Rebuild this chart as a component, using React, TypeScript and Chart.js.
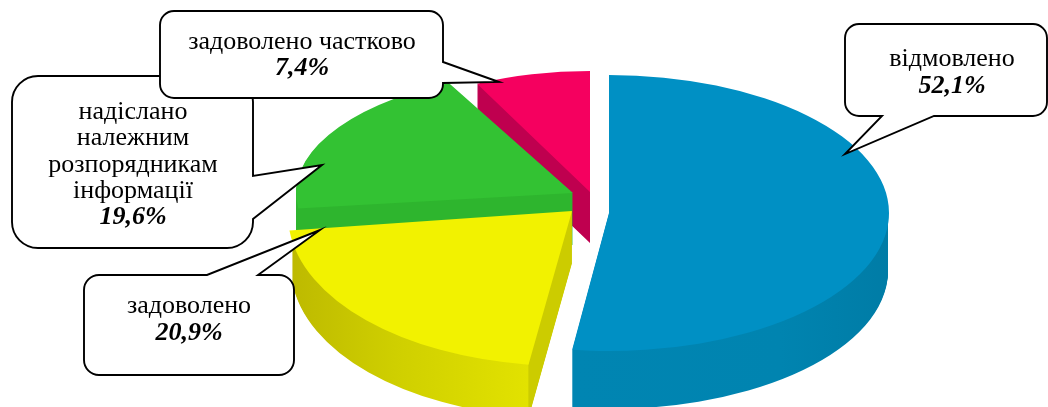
import React, { useEffect, useRef } from "react";
import { Chart, registerables } from "chart.js";

Chart.register(...registerables);

const categories = ["відмовлено", "задоволено", "надіслано належним розпорядникам інформації", "задоволено частково"];
const values = [52.1, 20.9, 19.6, 7.4];
const topColors = ["#0090c4", "#f2f200", "#33c233", "#f5005f"];

// Each exploded slice's projected ellipse (apex, radii, shear) and extrusion
const sliceFrames = [
  { cx: 609, cy: 213, rx: 280, ry: 138, skew: 0, depth: 58, wallRx: 279 },
  { cx: 572, cy: 211, rx: 284, ry: 155, skew: -0.04, depth: 52, wallRx: 281 },
  { cx: 573, cy: 193, rx: 277, ry: 123, skew: 0, depth: 52, wallRx: 277 },
  { cx: 590, cy: 192, rx: 252, ry: 121, skew: 0, depth: 51, wallRx: 252 },
];
const wallStops: [number, string][][] = [
  [[572, "#0085b2"], [780, "#0084b0"], [890, "#007ca6"]],
  [[290, "#bdb900"], [400, "#cfcf00"], [534, "#e2e200"], [535, "#cccc00"], [580, "#cccc00"]],
  [[290, "#2eb52e"], [575, "#2eb52e"]],
  [[470, "#bf004f"], [595, "#bf004f"]],
];

const calloutLines = [["відмовлено"], ["задоволено"], ["надіслано", "належним", "розпорядникам", "інформації"], ["задоволено частково"]];
const calloutBoxes = [
  { x: 845, y: 24, w: 202, h: 92, r: 14, tail: { side: "bottom", a: 882, tipX: 845, tipY: 154, b: 934 }, tx: 952, base: 66, step: 27 },
  { x: 84, y: 275, w: 210, h: 100, r: 15, tail: { side: "top", a: 258, tipX: 320, tipY: 230, b: 207 }, tx: 189, base: 313, step: 27 },
  { x: 12, y: 76, w: 241, h: 172, r: 26, tail: { side: "right", a: 176, tipX: 322, tipY: 165, b: 219 }, tx: 133, base: 119, step: 26.3 },
  { x: 160, y: 11, w: 283, h: 87, r: 14, tail: { side: "right", a: 62, tipX: 499, tipY: 82, b: 83 }, tx: 302, base: 49, step: 26 },
];
const calloutOrder = [0, 1, 2, 3];
const FONT = '"Liberation Serif", "Times New Roman", serif';
const FONT_SIZE = 26;

function drawCallout(ctx: CanvasRenderingContext2D, i: number) {
  const c = calloutBoxes[i];
  const { x, y, w, h, r, tail } = c;
  const R = x + w;
  const B = y + h;
  ctx.beginPath();
  ctx.moveTo(x + r, y);
  if (tail.side === "top") {
    ctx.lineTo(tail.b, y);
    ctx.lineTo(tail.tipX, tail.tipY);
    ctx.lineTo(tail.a, y);
  }
  ctx.lineTo(R - r, y);
  ctx.arcTo(R, y, R, y + r, r);
  if (tail.side === "right") {
    ctx.lineTo(R, tail.a);
    ctx.lineTo(tail.tipX, tail.tipY);
    ctx.lineTo(R, tail.b);
  }
  ctx.lineTo(R, B - r);
  ctx.arcTo(R, B, R - r, B, r);
  if (tail.side === "bottom") {
    ctx.lineTo(tail.b, B);
    ctx.lineTo(tail.tipX, tail.tipY);
    ctx.lineTo(tail.a, B);
  }
  ctx.lineTo(x + r, B);
  ctx.arcTo(x, B, x, B - r, r);
  ctx.lineTo(x, y + r);
  ctx.arcTo(x, y, x + r, y, r);
  ctx.closePath();
  ctx.fillStyle = "#ffffff";
  ctx.fill();
  ctx.strokeStyle = "#000000";
  ctx.lineWidth = 1.9;
  ctx.lineJoin = "miter";
  ctx.stroke();

  ctx.fillStyle = "#000000";
  ctx.textAlign = "center";
  ctx.textBaseline = "alphabetic";
  ctx.font = `${FONT_SIZE}px ${FONT}`;
  const lines = calloutLines[i];
  lines.forEach((t, k) => ctx.fillText(t, c.tx, c.base + k * c.step));
  ctx.font = `italic bold ${FONT_SIZE}px ${FONT}`;
  ctx.fillText(values[i].toFixed(1).replace(".", ",") + "%", c.tx, c.base + lines.length * c.step);
}

const pie3d = {
  id: "pie3d",
  beforeDatasetsDraw(chart: any) {
    const ctx: CanvasRenderingContext2D = chart.ctx;
    const arcs = chart.getDatasetMeta(0).data;
    const paint = (i: number, dy: number, rx: number, fill?: any) => {
      const el = arcs[i];
      const f = sliceFrames[i];
      const sx = rx / el.outerRadius;
      const sy = f.ry / el.outerRadius;
      ctx.save();
      ctx.translate(f.cx, f.cy + dy);
      ctx.transform(1, 0, f.skew, 1, 0, 0);
      ctx.scale(sx, sy);
      ctx.translate(-el.x, -el.y);
      const orig = el.options;
      if (fill) el.options = { ...orig, backgroundColor: fill };
      el.draw(ctx);
      el.options = orig;
      ctx.restore();
    };
    for (let i = values.length - 1; i >= 0; i--) {
      const f = sliceFrames[i];
      const el = arcs[i];
      const sx = f.wallRx / el.outerRadius;
      const toUser = (px: number) => el.x + (px - f.cx) / sx;
      const stops = wallStops[i];
      const x0 = stops[0][0];
      const x1 = stops[stops.length - 1][0];
      const g = ctx.createLinearGradient(toUser(x0), 0, toUser(x1), 0);
      stops.forEach(([p, col]) => g.addColorStop((p - x0) / (x1 - x0), col));
      for (let dy = f.depth; dy >= 1; dy--) paint(i, dy, f.wallRx, g);
      paint(i, 0, f.rx);
    }
    return false;
  },
  afterDraw(chart: any) {
    const ctx: CanvasRenderingContext2D = chart.ctx;
    ctx.save();
    calloutOrder.forEach((i) => drawCallout(ctx, i));
    ctx.restore();
  },
};

export default function App() {
  const ref = useRef<HTMLCanvasElement>(null);
  useEffect(() => {
    if (!ref.current) return;
    const chart = new Chart(ref.current, {
      type: "pie",
      data: {
        labels: categories,
        datasets: [{ data: values, backgroundColor: topColors, borderWidth: 0 }],
      },
      options: {
        animation: false,
        responsive: false,
        events: [],
        plugins: { legend: { display: false }, tooltip: { enabled: false } },
      },
      plugins: [pie3d],
    } as any);
    return () => chart.destroy();
  }, []);
  return (
    <canvas
      ref={ref}
      width={1048}
      height={407}
      style={{ position: "absolute", left: 0, top: 0, display: "block", width: 1048, height: 407 }}
    />
  );
}
